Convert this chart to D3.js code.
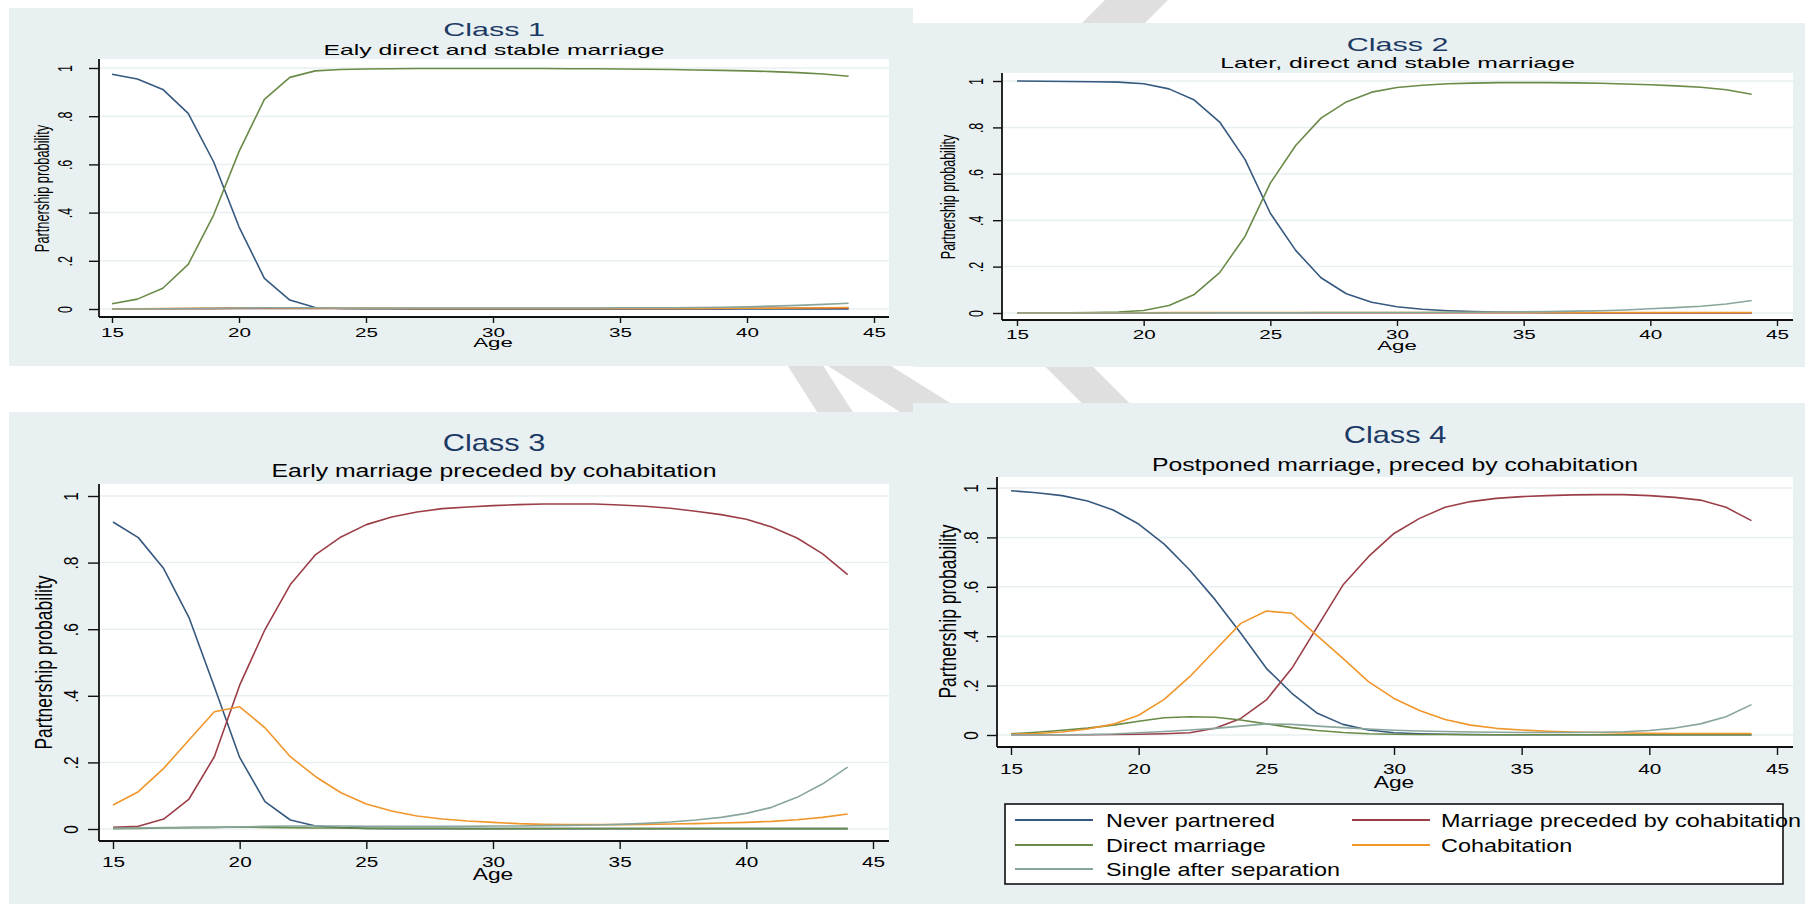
<!DOCTYPE html>
<html>
<head>
<meta charset="utf-8">
<script src="https://cdn.jsdelivr.net/npm/d3@7"></script>
<style>
  body { margin: 0; background: #fff; }
  svg { display: block; font-family: "Liberation Sans", Arial, sans-serif; }
</style>
</head>
<body>
<svg id="chart"></svg>
<script>
const ages = [15, 16, 17, 18, 19, 20, 21, 22, 23, 24, 25, 26, 27, 28, 29,
  30, 31, 32, 33, 34, 35, 36, 37, 38, 39, 40, 41, 42, 43, 44];

const seriesNames = ["Never partnered", "Marriage preceded by cohabitation",
  "Direct marriage", "Cohabitation", "Single after separation"];
const seriesColors = ["#35597f", "#9b3e48", "#6a8a48", "#f0962a", "#89a69d"];

const xTicks = [15, 20, 25, 30, 35, 40, 45];
const yTicks = [0, 0.2, 0.4, 0.6, 0.8, 1];
const yTickLabels = ["0", ".2", ".4", ".6", ".8", "1"];

const classTitles = ["Class 1", "Class 2", "Class 3", "Class 4"];
const classSubtitles = ["Ealy direct and stable marriage",
  "Later, direct and stable marriage",
  "Early marriage preceded by cohabitation",
  "Postponed marriage, preced by cohabitation"];

// Class 1
const never1 = [0.974, 0.954, 0.911, 0.812, 0.611, 0.341, 0.127, 0.037, 0.006, 0.002, 0.001, 0.001, 0, 0, 0,
  0, 0, 0, 0, 0, 0, 0, 0, 0, 0, 0, 0, 0, 0, 0];
const mpc1 = [0.001, 0.001, 0.001, 0.001, 0.001, 0.002, 0.002, 0.002, 0.002, 0.002, 0.002, 0.002, 0.002, 0.002, 0.002,
  0.002, 0.002, 0.002, 0.002, 0.002, 0.002, 0.002, 0.002, 0.002, 0.002, 0.003, 0.003, 0.003, 0.004, 0.004];
const direct1 = [0.022, 0.041, 0.086, 0.185, 0.390, 0.653, 0.870, 0.961, 0.988, 0.994, 0.996, 0.997, 0.998, 0.998, 0.998,
  0.998, 0.998, 0.998, 0.997, 0.997, 0.996, 0.995, 0.994, 0.992, 0.990, 0.988, 0.985, 0.981, 0.975, 0.966];
const cohab1 = [0.001, 0.001, 0.002, 0.003, 0.004, 0.005, 0.005, 0.004, 0.004, 0.003, 0.003, 0.003, 0.002, 0.002, 0.002,
  0.002, 0.002, 0.002, 0.002, 0.002, 0.002, 0.002, 0.002, 0.002, 0.003, 0.003, 0.003, 0.004, 0.005, 0.006];
const single1 = [0, 0, 0.001, 0.002, 0.003, 0.004, 0.005, 0.005, 0.005, 0.004, 0.004, 0.004, 0.004, 0.004, 0.004,
  0.004, 0.004, 0.004, 0.004, 0.004, 0.005, 0.005, 0.005, 0.006, 0.007, 0.009, 0.012, 0.015, 0.019, 0.024];

// Class 2
const never2 = [1.0, 0.999, 0.998, 0.997, 0.995, 0.988, 0.966, 0.918, 0.823, 0.662, 0.430, 0.270, 0.152, 0.083, 0.046,
  0.027, 0.016, 0.010, 0.006, 0.004, 0.003, 0.002, 0.002, 0.001, 0.001, 0.001, 0.001, 0.001, 0.001, 0.001];
const mpc2 = [0, 0, 0, 0, 0, 0, 0.001, 0.001, 0.001, 0.001, 0.001, 0.001, 0.001, 0.001, 0.001,
  0.001, 0.001, 0.001, 0.001, 0.001, 0.001, 0.001, 0.001, 0.001, 0.001, 0.001, 0.001, 0.001, 0.001, 0.001];
const direct2 = [0, 0, 0.001, 0.002, 0.004, 0.011, 0.032, 0.080, 0.174, 0.330, 0.560, 0.722, 0.840, 0.910, 0.952,
  0.972, 0.982, 0.988, 0.991, 0.993, 0.993, 0.993, 0.992, 0.990, 0.987, 0.984, 0.979, 0.973, 0.962, 0.943];
const cohab2 = [0, 0, 0, 0.001, 0.001, 0.001, 0.002, 0.002, 0.002, 0.002, 0.002, 0.002, 0.002, 0.002, 0.002,
  0.002, 0.002, 0.002, 0.002, 0.002, 0.002, 0.002, 0.002, 0.002, 0.002, 0.002, 0.002, 0.002, 0.002, 0.002];
const single2 = [0, 0, 0, 0, 0, 0, 0, 0, 0.001, 0.001, 0.001, 0.001, 0.002, 0.002, 0.002,
  0.002, 0.002, 0.003, 0.003, 0.004, 0.005, 0.006, 0.008, 0.010, 0.013, 0.018, 0.023, 0.029, 0.039, 0.054];

// Class 3
const never3 = [0.922, 0.875, 0.782, 0.635, 0.427, 0.215, 0.082, 0.027, 0.009, 0.004, 0.002, 0.001, 0.001, 0.001, 0.001,
  0.001, 0.001, 0.001, 0.001, 0.001, 0.001, 0.001, 0.001, 0.001, 0.001, 0.001, 0.001, 0.001, 0.001, 0.001];
const mpc3 = [0.005, 0.008, 0.030, 0.090, 0.217, 0.432, 0.599, 0.734, 0.824, 0.877, 0.914, 0.937, 0.952, 0.962, 0.967,
  0.971, 0.974, 0.976, 0.976, 0.976, 0.973, 0.969, 0.963, 0.954, 0.944, 0.930, 0.907, 0.874, 0.827, 0.764];
const direct3 = [0.001, 0.002, 0.003, 0.004, 0.005, 0.006, 0.005, 0.004, 0.003, 0.003, 0.002, 0.002, 0.002, 0.002, 0.001,
  0.001, 0.001, 0.001, 0.001, 0.001, 0.001, 0.001, 0.001, 0.001, 0.001, 0.001, 0.001, 0.001, 0.001, 0.001];
const cohab3 = [0.072, 0.112, 0.182, 0.267, 0.352, 0.367, 0.304, 0.217, 0.157, 0.109, 0.075, 0.054, 0.039, 0.030, 0.024,
  0.020, 0.016, 0.014, 0.013, 0.013, 0.013, 0.014, 0.015, 0.016, 0.018, 0.020, 0.023, 0.028, 0.035, 0.045];
const single3 = [0.002, 0.003, 0.004, 0.005, 0.005, 0.006, 0.008, 0.009, 0.009, 0.009, 0.008, 0.008, 0.008, 0.008, 0.008,
  0.009, 0.009, 0.010, 0.011, 0.012, 0.014, 0.017, 0.021, 0.027, 0.035, 0.047, 0.065, 0.095, 0.135, 0.186];

// Class 4
const never4 = [0.989, 0.981, 0.969, 0.947, 0.911, 0.854, 0.773, 0.668, 0.547, 0.412, 0.270, 0.169, 0.088, 0.043, 0.020,
  0.009, 0.005, 0.003, 0.002, 0.001, 0.001, 0.001, 0.001, 0.001, 0.001, 0.001, 0.001, 0.001, 0.001, 0.001];
const mpc4 = [0.001, 0.001, 0.001, 0.001, 0.002, 0.003, 0.005, 0.009, 0.027, 0.067, 0.142, 0.270, 0.439, 0.607, 0.722,
  0.816, 0.877, 0.922, 0.945, 0.958, 0.965, 0.969, 0.972, 0.973, 0.973, 0.969, 0.962, 0.951, 0.922, 0.868];
const direct4 = [0.005, 0.011, 0.019, 0.028, 0.040, 0.056, 0.070, 0.074, 0.072, 0.061, 0.045, 0.030, 0.018, 0.010, 0.005,
  0.003, 0.002, 0.002, 0.001, 0.001, 0.001, 0.001, 0.001, 0.001, 0.001, 0.001, 0.001, 0.001, 0.001, 0.001];
const cohab4 = [0.003, 0.006, 0.012, 0.024, 0.044, 0.080, 0.144, 0.236, 0.344, 0.452, 0.502, 0.493, 0.401, 0.310, 0.216,
  0.148, 0.099, 0.063, 0.040, 0.027, 0.020, 0.015, 0.012, 0.010, 0.008, 0.007, 0.006, 0.006, 0.006, 0.006];
const single4 = [0.001, 0.001, 0.001, 0.002, 0.004, 0.009, 0.014, 0.020, 0.027, 0.036, 0.045, 0.043, 0.036, 0.030, 0.024,
  0.019, 0.016, 0.014, 0.012, 0.011, 0.010, 0.010, 0.010, 0.011, 0.013, 0.018, 0.028, 0.045, 0.074, 0.123];

const classSeries = [
  [never1, mpc1, direct1, cohab1, single1],
  [never2, mpc2, direct2, cohab2, single2],
  [never3, mpc3, direct3, cohab3, single3],
  [never4, mpc4, direct4, cohab4, single4],
];

// layout of each panel, pixel positions
// plot = [left, top, right, bottom]
const layouts = [
  { bg: [9, 8, 904, 358], plot: [99, 59, 889, 317], xr: [112, 874], yr: [309, 68], sx: 1.65,
    titleY: 36, titleSize: 18.5, subY: 55, subSize: 15, tickSize: 12.5, yTitleSize: 12.8, ageSize: 13.5,
    yTitleX: 49, yLabX: 72, yTickLen: 10, xTickLen: 6, xLabY: 337, ageY: 347 },
  { bg: [913, 23, 892, 344], plot: [1002, 73, 1793, 320], xr: [1017, 1777], yr: [313, 81], sx: 1.65,
    titleY: 51, titleSize: 18.5, subY: 68, subSize: 15, tickSize: 12.5, yTitleSize: 12.5, ageSize: 13.5,
    yTitleX: 955, yLabX: 983, yTickLen: 9, xTickLen: 6, xLabY: 339, ageY: 350 },
  { bg: [9, 412, 904, 492], plot: [99, 484, 889, 841], xr: [113, 873], yr: [829, 496], sx: 1.34,
    titleY: 451, titleSize: 23, subY: 477, subSize: 18.5, tickSize: 15.5, yTitleSize: 17.5, ageSize: 17,
    yTitleX: 52, yLabX: 78, yTickLen: 11, xTickLen: 8, xLabY: 867, ageY: 880 },
  { bg: [913, 403, 892, 501], plot: [997, 477, 1793, 747], xr: [1011, 1777], yr: [735, 488], sx: 1.34,
    titleY: 443, titleSize: 23, subY: 471, subSize: 18.5, tickSize: 15.5, yTitleSize: 17.5, ageSize: 17,
    yTitleX: 956, yLabX: 978, yTickLen: 10, xTickLen: 8, xLabY: 774, ageY: 788 },
];

const legendLayout = { box: [1005, 804, 778, 80], rowY: [820, 845, 869],
  lineX: [[1015, 1093], [1352, 1430]], textX: [1106, 1441], size: 18, sx: 1.3 };

// faint grey stripes of the background watermark, showing between panels
const watermark = [
  [[1110, -5], [1173, -5], [1138, 30], [1075, 30]],
  [[784, 360], [819.5, 360], [856.6, 418], [821, 418]],
  [[818.6, 360], [881.4, 360], [974.2, 418], [909.4, 418]],
  [[1038.7, 360], [1086.3, 360], [1136.3, 410], [1088.7, 410]],
];

const svg = d3.select("#chart").attr("width", 1805).attr("height", 904);

svg.append("g")
  .selectAll("polygon")
  .data(watermark)
  .join("polygon")
  .attr("points", (d) => d.map((p) => p.join(",")).join(" "))
  .attr("fill", "#dfdfdf");

function addText(g, str, x, y, size, sx, opts = {}) {
  return g
    .append("text")
    .attr("transform", `translate(${x},${y}) scale(${sx},1)` + (opts.rotate ? " rotate(-90)" : ""))
    .attr("text-anchor", opts.anchor || "middle")
    .attr("font-size", size)
    .attr("fill", opts.fill || "#000")
    .text(str);
}

function drawPanel(idx) {
  const L = layouts[idx];
  const [pl, pt, pr, pb] = L.plot;
  const g = svg.append("g").attr("class", "panel");

  g.append("rect")
    .attr("x", L.bg[0]).attr("y", L.bg[1])
    .attr("width", L.bg[2]).attr("height", L.bg[3])
    .attr("fill", "#e9f0f2");

  g.append("rect")
    .attr("x", pl).attr("y", pt)
    .attr("width", pr - pl).attr("height", pb - pt)
    .attr("fill", "#fff");

  const x = d3.scaleLinear().domain([15, 45]).range(L.xr);
  const y = d3.scaleLinear().domain([0, 1]).range(L.yr);

  // gridlines
  g.append("g")
    .selectAll("line")
    .data(yTicks)
    .join("line")
    .attr("x1", pl).attr("x2", pr)
    .attr("y1", (d) => y(d)).attr("y2", (d) => y(d))
    .attr("stroke", "#e8eff1")
    .attr("stroke-width", 1.5);

  // titles
  const cx = (pl + pr) / 2;
  addText(g, classTitles[idx], cx, L.titleY, L.titleSize, L.sx, { fill: "#1c3a64" });
  addText(g, classSubtitles[idx], cx, L.subY, L.subSize, L.sx);

  // y axis
  const yAxis = d3.axisLeft(y)
    .tickValues(yTicks)
    .tickSize(L.yTickLen)
    .tickSizeOuter(0)
    .tickFormat((d, i) => yTickLabels[i]);
  const ya = g.append("g").attr("transform", `translate(${pl},0)`).call(yAxis)
    .attr("font-size", null).attr("font-family", null);
  ya.select(".domain").remove();
  ya.selectAll(".tick line").attr("stroke", "#111").attr("stroke-width", 1.4);
  ya.selectAll(".tick text")
    .attr("x", 0).attr("dy", null)
    .attr("transform", `translate(${L.yLabX - pl},0) scale(${L.sx},1) rotate(-90)`)
    .attr("text-anchor", "middle")
    .attr("font-size", L.tickSize)
    .attr("fill", "#000");

  // x axis
  const xAxis = d3.axisBottom(x)
    .tickValues(xTicks)
    .tickSize(L.xTickLen)
    .tickSizeOuter(0);
  const xa = g.append("g").attr("transform", `translate(0,${pb})`).call(xAxis)
    .attr("font-size", null).attr("font-family", null);
  xa.select(".domain").remove();
  xa.selectAll(".tick line").attr("stroke", "#111").attr("stroke-width", 1.4);
  xa.selectAll(".tick text")
    .attr("y", 0).attr("dy", null)
    .attr("transform", `translate(0,${L.xLabY - pb}) scale(${L.sx},1)`)
    .attr("text-anchor", "middle")
    .attr("font-size", L.tickSize)
    .attr("fill", "#000");

  // axis lines over the whole plot region
  g.append("line")
    .attr("x1", pl).attr("x2", pl).attr("y1", pt).attr("y2", pb)
    .attr("stroke", "#111").attr("stroke-width", 1.8);
  g.append("line")
    .attr("x1", pl).attr("x2", pr).attr("y1", pb).attr("y2", pb)
    .attr("stroke", "#111").attr("stroke-width", 1.8);

  addText(g, "Partnership probability", L.yTitleX, (L.yr[0] + L.yr[1]) / 2, L.yTitleSize, L.sx, { rotate: true });
  addText(g, "Age", x(30), L.ageY, L.ageSize, L.sx);

  const line = d3.line()
    .x((d, i) => x(ages[i]))
    .y((d) => y(d));

  g.append("g")
    .selectAll("path")
    .data(classSeries[idx])
    .join("path")
    .attr("d", line)
    .attr("fill", "none")
    .attr("stroke", (d, i) => seriesColors[i])
    .attr("stroke-width", 1.6)
    .attr("stroke-linejoin", "round");
}

classTitles.forEach((t, i) => drawPanel(i));

// legend (inside the Class 4 panel)
const lg = svg.append("g").attr("class", "legend");
const LL = legendLayout;
lg.append("rect")
  .attr("x", LL.box[0]).attr("y", LL.box[1])
  .attr("width", LL.box[2]).attr("height", LL.box[3])
  .attr("fill", "#fff")
  .attr("stroke", "#111")
  .attr("stroke-width", 1.6);

seriesNames.forEach((name, k) => {
  const col = k % 2;
  const row = Math.floor(k / 2);
  const ly = LL.rowY[row];
  lg.append("line")
    .attr("x1", LL.lineX[col][0]).attr("x2", LL.lineX[col][1])
    .attr("y1", ly).attr("y2", ly)
    .attr("stroke", seriesColors[k])
    .attr("stroke-width", 2);
  addText(lg, name, LL.textX[col], ly + 6.5, LL.size, LL.sx, { anchor: "start" });
});
</script>
</body>
</html>
